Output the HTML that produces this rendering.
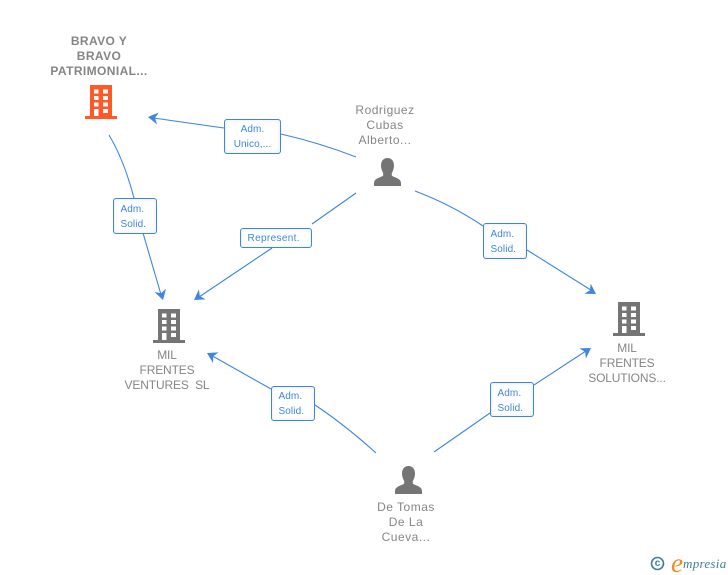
<!DOCTYPE html>
<html>
<head>
<meta charset="utf-8">
<style>
html,body{margin:0;padding:0;background:#fff}
#c{position:relative;width:728px;height:575px;overflow:hidden;background:#fff;font-family:"Liberation Sans",sans-serif}
svg{position:absolute;left:0;top:0}
.t{position:absolute;text-align:center;color:#858585;font-size:12px;line-height:15px;letter-spacing:.5px;white-space:nowrap;transform:translateX(-50%)}
.u{letter-spacing:-.15px}
.b{font-weight:bold;letter-spacing:.4px}
.l{position:absolute;box-sizing:border-box;background:#fff;border:1px solid #3d85e0;border-radius:3px;color:#3d85e0;font-size:10px;line-height:15px;letter-spacing:.1px;white-space:nowrap;box-shadow:inset 0 0 4px #e8e8e8;padding-left:6.500px}
</style>
</head>
<body>
<div id="c">
<svg width="728" height="575" viewBox="0 0 728 575" xmlns="http://www.w3.org/2000/svg">
<defs>
<g id="bld">
<path fill-rule="evenodd" d="M5 0H27V31H32V34H0V31H5ZM9 4.500V8.500H13.500V4.500ZM18 4.500V8.500H23V4.500ZM9 11V15H13.500V11ZM18 11V15H23V11ZM9 17.500V21.500H13.500V17.500ZM18 17.500V21.500H23V17.500ZM18 24V28H23V24ZM9 24V31H13.500V24Z"/>
</g>
<g id="per">
<path d="M13.500 0C18 0 20 3.500 20 7.500C20 10.500 19 13 17.800 15V17.500C19.500 19.500 27 20 27 25V28H0V25C0 20 7.500 19.500 9.200 17.500V15C8 13 7 10.500 7 7.500C7 3.500 9 0 13.500 0Z"/>
</g>
<g id="arrow"><path d="M0 0L-10 -6L-7 0L-10 6Z" fill="#3d85e0"/></g>
</defs>
<g fill="none" stroke="#3d85e0" stroke-width="1.100">
<path d="M356 157Q320 143 281 134"/>
<path d="M224 128L150 117.500"/>
<path d="M109 135Q124 160 134 198"/>
<path d="M143 233L162 298"/>
<path d="M356 193L312 224"/>
<path d="M272 248L196 299"/>
<path d="M415 191Q452 205 483 226"/>
<path d="M527 250L594 292"/>
<path d="M376 453Q345 425 315 405"/>
<path d="M271 389L209 354"/>
<path d="M434 452L490 413"/>
<path d="M534 385L589 349"/>
</g>
<use href="#arrow" transform="translate(148 117) rotate(188)"/>
<use href="#arrow" transform="translate(163 300) rotate(74)"/>
<use href="#arrow" transform="translate(194 300) rotate(146)"/>
<use href="#arrow" transform="translate(596 294) rotate(32)"/>
<use href="#arrow" transform="translate(207 353) rotate(208)"/>
<use href="#arrow" transform="translate(591 348) rotate(-33)"/>
<use href="#bld" x="85" y="85" fill="#ff5a26"/>
<use href="#bld" x="153" y="309" fill="#757575"/>
<use href="#bld" x="613" y="302" fill="#757575"/>
<use href="#per" x="374" y="158" fill="#757575"/>
<use href="#per" x="395" y="466" fill="#757575"/>
<circle cx="657.500" cy="563.500" r="6" fill="none" stroke="#3f7f95" stroke-width="1.600"/>
</svg>

<div class="t b" style="left:99px;top:34px">BRAVO Y<br>BRAVO<br>PATRIMONIAL...</div>
<div class="t" style="left:385px;top:103px">Rodriguez<br>Cubas<br>Alberto...</div>
<div class="t u" style="left:167px;top:348px">MIL<br>FRENTES<br>VENTURES&nbsp; SL</div>
<div class="t u" style="left:627px;top:341px">MIL<br>FRENTES<br>SOLUTIONS...</div>
<div class="t" style="left:406px;top:500px">De Tomas<br>De La<br>Cueva...</div>

<div class="l" style="left:224px;top:119px;width:57px;height:35px;padding-top:2px;text-align:center;padding-left:0">Adm.<br>Unico,...</div>
<div class="l" style="left:113px;top:198px;width:44px;height:36px;padding-top:3px">Adm.<br>Solid.</div>
<div class="l" style="left:240px;top:228px;width:72px;height:20px;padding-top:2px;letter-spacing:.35px">Represent.</div>
<div class="l" style="left:483px;top:223px;width:44px;height:36px;padding-top:2.500px">Adm.<br>Solid.</div>
<div class="l" style="left:490px;top:382px;width:44px;height:35px;padding-top:3px">Adm.<br>Solid.</div>
<div class="l" style="left:271px;top:386px;width:44px;height:35px;padding-top:2px">Adm.<br>Solid.</div>

<div style="position:absolute;left:653.500px;top:557.500px;width:8px;text-align:center;font-size:10px;line-height:12px;font-weight:bold;color:#3f7f95">c</div>
<div style="position:absolute;left:671px;top:549px;font-family:'Liberation Serif',serif;font-style:italic;font-size:27px;line-height:28px;color:#f08a1d">e</div>
<div style="position:absolute;left:683px;top:556px;font-family:'Liberation Serif',serif;font-style:italic;font-size:13px;line-height:16px;letter-spacing:.3px;color:#3f7f95">mpresia</div>
</div>
</body>
</html>
